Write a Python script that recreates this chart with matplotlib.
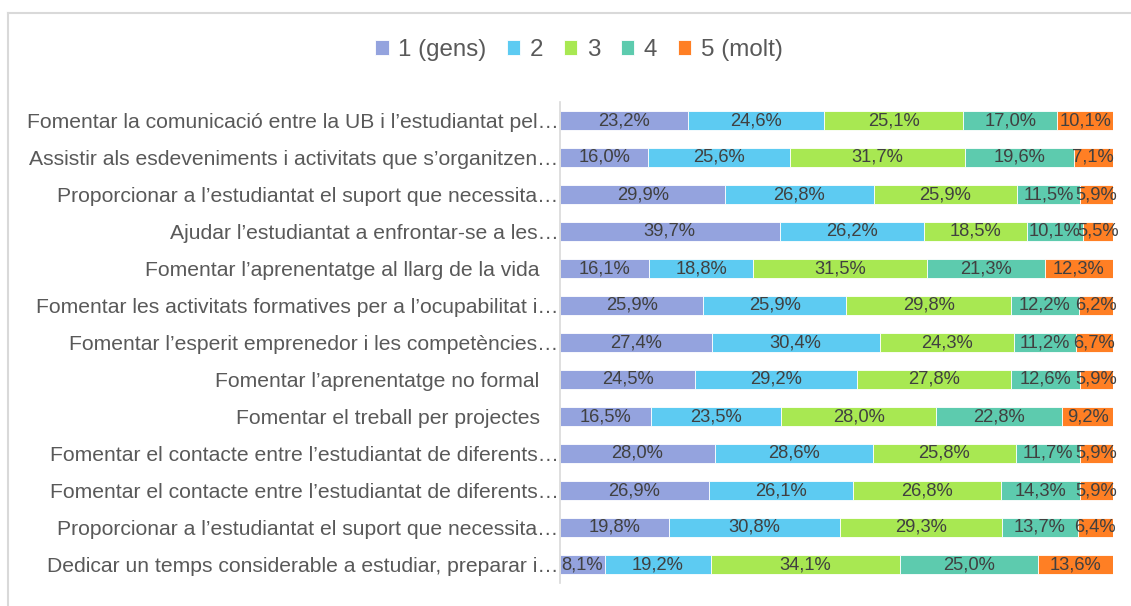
import matplotlib
matplotlib.use("Agg")
import matplotlib.pyplot as plt
import matplotlib.transforms as mtransforms
from matplotlib.lines import Line2D
import numpy as np

plt.rcParams['font.family'] = ['Liberation Sans', 'DejaVu Sans']

categories = [
    "Fomentar la comunicació entre la UB i l’estudiantat pel…",
    "Assistir als esdeveniments i activitats que s’organitzen…",
    "Proporcionar a l’estudiantat el suport que necessita…",
    "Ajudar l’estudiantat a enfrontar-se a les…",
    "Fomentar l’aprenentatge al llarg de la vida",
    "Fomentar les activitats formatives per a l’ocupabilitat i…",
    "Fomentar l’esperit emprenedor i les competències…",
    "Fomentar l’aprenentatge no formal",
    "Fomentar el treball per projectes",
    "Fomentar el contacte entre l’estudiantat de diferents…",
    "Fomentar el contacte entre l’estudiantat de diferents…",
    "Proporcionar a l’estudiantat el suport que necessita…",
    "Dedicar un temps considerable a estudiar, preparar i…",
]
series_names = ["1 (gens)", "2", "3", "4", "5 (molt)"]
s1 = [23.2, 16.0, 29.9, 39.7, 16.1, 25.9, 27.4, 24.5, 16.5, 28.0, 26.9, 19.8, 8.1]
s2 = [24.6, 25.6, 26.8, 26.2, 18.8, 25.9, 30.4, 29.2, 23.5, 28.6, 26.1, 30.8, 19.2]
s3 = [25.1, 31.7, 25.9, 18.5, 31.5, 29.8, 24.3, 27.8, 28.0, 25.8, 26.8, 29.3, 34.1]
s4 = [17.0, 19.6, 11.5, 10.1, 21.3, 12.2, 11.2, 12.6, 22.8, 11.7, 14.3, 13.7, 25.0]
s5 = [10.1, 7.1, 5.9, 5.5, 12.3, 6.2, 6.7, 5.9, 9.2, 5.9, 5.9, 6.4, 13.6]
colors = ["#94A3DE", "#5DCBF2", "#A8E852", "#5DCBAE", "#FF7F24"]

data = np.array([s1, s2, s3, s4, s5], dtype=float)
norm = data / data.sum(axis=0) * 100.0

W, H = 1131, 606
fig = plt.figure(figsize=(W / 100, H / 100), dpi=100)
ax = fig.add_axes([560 / W, 1 - 583 / H, (1113 - 560) / W, (583 - 102) / H])

y = np.arange(len(categories))
left = np.zeros(len(categories))
for i, (name, col) in enumerate(zip(series_names, colors)):
    bars = ax.barh(y, norm[i], left=left, height=0.52, color=col, label=name,
                   edgecolor='white', linewidth=0.6)
    for j, b in enumerate(bars):
        cx = b.get_x() + b.get_width() / 2
        ax.text(cx, y[j], f"{data[i, j]:.1f}%".replace('.', ','), ha='center', va='center',
                fontsize=13.2, color='#404040', clip_on=False)
    left += norm[i]

ax.set_xlim(0, 100)
ax.set_ylim(len(categories) - 0.5, -0.5)
ax.set_yticks(y)
ax.set_yticklabels(categories, fontsize=15.2, color='#595959')
ax.tick_params(axis='y', length=0, pad=1)
ax.set_xticks([])
for s in ['top', 'right', 'bottom']:
    ax.spines[s].set_visible(False)
ax.spines['left'].set_color('#D9D9D9')
ax.spines['left'].set_linewidth(1.2)

for lab in ax.get_yticklabels():
    if not lab.get_text().endswith('…'):
        off = mtransforms.ScaledTranslation(-19 / 100, 0, fig.dpi_scale_trans)
        lab.set_transform(lab.get_transform() + off)

fig.legend(loc='center', bbox_to_anchor=(579 / W, 1 - 50 / H), ncol=5, frameon=False,
           fontsize=17.4, handlelength=0.55, handleheight=0.55, handletextpad=0.4,
           columnspacing=0.85, labelcolor='#595959')

# chart frame (left and top)
fig.add_artist(Line2D([8 / W, 8 / W], [0, 1 - 13 / H], transform=fig.transFigure,
                      color='#D9D9D9', linewidth=1.5))
fig.add_artist(Line2D([8 / W, 1], [1 - 13 / H, 1 - 13 / H], transform=fig.transFigure,
                      color='#D9D9D9', linewidth=1.5))

fig.savefig("out.png", dpi=100)
